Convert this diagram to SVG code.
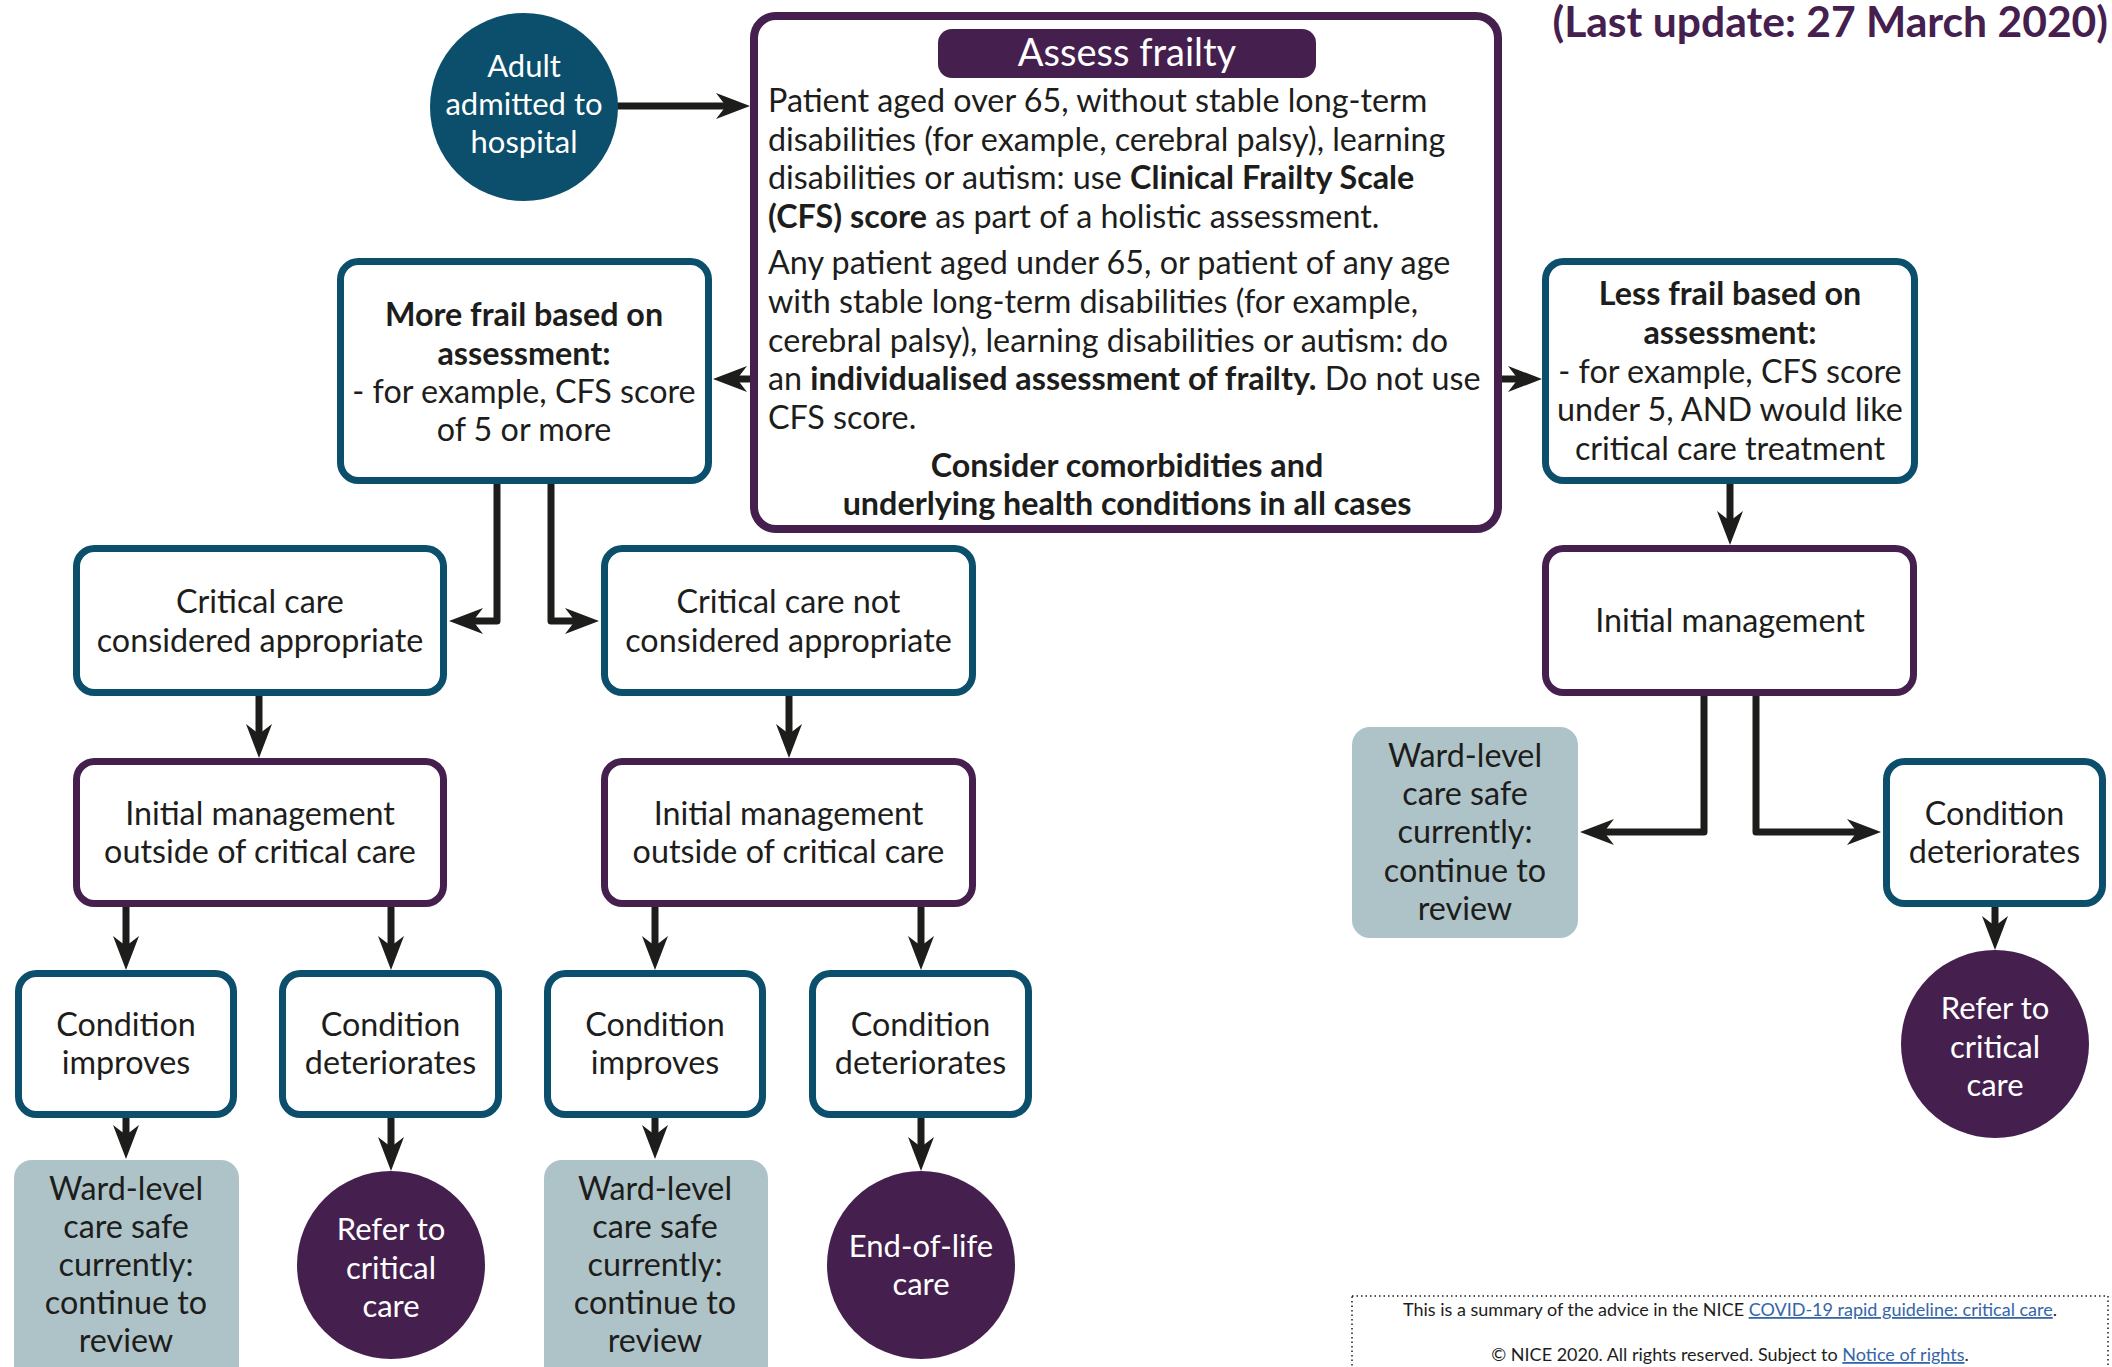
<svg xmlns="http://www.w3.org/2000/svg" width="2112" height="1367" viewBox="0 0 2112 1367">
<defs>
<style>
text{font-family:Lato,"Open Sans","Liberation Sans",sans-serif;font-size:32.3px;fill:#1d1d1b}
.c{text-anchor:middle}
.w{fill:#ffffff}
.ci{font-size:31px}
.b{font-weight:bold}
.teal{fill:#ffffff;stroke:#0b4f6c;stroke-width:7}
.purp{fill:#ffffff;stroke:#45204f;stroke-width:7}
.ward{fill:#aec3c8}
.circT{fill:#0b4f6c}
.circP{fill:#45204f}
.con{fill:none;stroke:#1d1d1b;stroke-width:7;stroke-linejoin:round;marker-end:url(#ah)}
.foot{font-size:18px}
.lnk{fill:#3566a8;text-decoration:underline}
</style>
<marker id="ah" viewBox="-10 -14 36 28" refX="0" refY="0" markerWidth="36" markerHeight="28" markerUnits="userSpaceOnUse" orient="auto">
<path d="M24,0 L-10,-13 L0,0 L-10,13 Z" fill="#1d1d1b"/>
</marker>
</defs>

<text class="b" x="2108" y="37" style="font-size:42.6px;fill:#45204f;text-anchor:end">(Last update: 27 March 2020)</text>

<g id="connectors">
<path class="con" d="M617,106 H726"/>
<path class="con" d="M751,379 H737"/>
<path class="con" d="M1502,379 H1518"/>
<path class="con" d="M1730,484 V521"/>
<path class="con" d="M497,484 V621 H473"/>
<path class="con" d="M551,484 V621 H575"/>
<path class="con" d="M259,696 V734"/>
<path class="con" d="M789,696 V734"/>
<path class="con" d="M126,907 V946"/>
<path class="con" d="M391,907 V946"/>
<path class="con" d="M655,907 V946"/>
<path class="con" d="M921,907 V946"/>
<path class="con" d="M126,1118 V1135"/>
<path class="con" d="M391,1118 V1147"/>
<path class="con" d="M655,1118 V1135"/>
<path class="con" d="M921,1118 V1147"/>
<path class="con" d="M1704,696 V832 H1604"/>
<path class="con" d="M1756,696 V832 H1857"/>
<path class="con" d="M1995,907 V926"/>
</g>

<g id="adult">
<circle class="circT" cx="524" cy="107" r="94"/>
<text class="c w ci" x="524" y="77">Adult</text>
<text class="c w ci" x="524" y="115">admitted to</text>
<text class="c w ci" x="524" y="153">hospital</text>
</g>

<g id="assess">
<rect x="754" y="16" width="744" height="513" rx="22" fill="#ffffff" stroke="#45204f" stroke-width="8"/>
<rect x="938" y="29" width="378" height="49" rx="14" fill="#45204f"/>
<text class="c w" x="1127" y="66" style="font-size:38px">Assess frailty</text>
<text x="768" y="112">Patient aged over 65, without stable long-term</text>
<text x="768" y="151">disabilities (for example, cerebral palsy), learning</text>
<text x="768" y="189">disabilities or autism: use <tspan class="b">Clinical Frailty Scale</tspan></text>
<text x="768" y="228"><tspan class="b">(CFS) score</tspan> as part of a holistic assessment.</text>
<text x="768" y="274">Any patient aged under 65, or patient of any age</text>
<text x="768" y="313">with stable long-term disabilities (for example,</text>
<text x="768" y="352">cerebral palsy), learning disabilities or autism: do</text>
<text x="768" y="390">an <tspan class="b">individualised assessment of frailty.</tspan> Do not use</text>
<text x="768" y="429">CFS score.</text>
<text class="c b" x="1127" y="477">Consider comorbidities and</text>
<text class="c b" x="1127" y="515">underlying health conditions in all cases</text>
</g>

<g id="more-frail">
<rect class="teal" x="340.5" y="261.5" width="368" height="219" rx="18"/>
<text class="c b" x="524" y="326">More frail based on</text>
<text class="c b" x="524" y="365">assessment:</text>
<text class="c" x="524" y="403">- for example, CFS score</text>
<text class="c" x="524" y="441">of 5 or more</text>
</g>

<g id="less-frail">
<rect class="teal" x="1545.5" y="261.5" width="369" height="219" rx="18"/>
<text class="c b" x="1730" y="305">Less frail based on</text>
<text class="c b" x="1730" y="344">assessment:</text>
<text class="c" x="1730" y="383">- for example, CFS score</text>
<text class="c" x="1730" y="421">under 5, AND would like</text>
<text class="c" x="1730" y="460">critical care treatment</text>
</g>

<g id="cc-appropriate">
<rect class="teal" x="76.5" y="548.5" width="367" height="144" rx="18"/>
<text class="c" x="260" y="613">Critical care</text>
<text class="c" x="260" y="652">considered appropriate</text>
</g>

<g id="cc-not-appropriate">
<rect class="teal" x="604.5" y="548.5" width="368" height="144" rx="18"/>
<text class="c" x="788.5" y="613">Critical care not</text>
<text class="c" x="788.5" y="652">considered appropriate</text>
</g>

<g id="init-left">
<rect class="purp" x="76.5" y="761.5" width="367" height="142" rx="18"/>
<text class="c" x="260" y="825">Initial management</text>
<text class="c" x="260" y="863">outside of critical care</text>
</g>

<g id="init-mid">
<rect class="purp" x="604.5" y="761.5" width="368" height="142" rx="18"/>
<text class="c" x="788.5" y="825">Initial management</text>
<text class="c" x="788.5" y="863">outside of critical care</text>
</g>

<g id="init-right">
<rect class="purp" x="1545.5" y="548.5" width="368" height="144" rx="18"/>
<text class="c" x="1730" y="632">Initial management</text>
</g>

<g id="cond-improves-1">
<rect class="teal" x="18.5" y="973.5" width="215" height="141" rx="18"/>
<text class="c" x="126" y="1036">Condition</text>
<text class="c" x="126" y="1074">improves</text>
</g>

<g id="cond-det-1">
<rect class="teal" x="282.5" y="973.5" width="216" height="141" rx="18"/>
<text class="c" x="390.5" y="1036">Condition</text>
<text class="c" x="390.5" y="1074">deteriorates</text>
</g>

<g id="cond-improves-2">
<rect class="teal" x="547.5" y="973.5" width="215" height="141" rx="18"/>
<text class="c" x="655" y="1036">Condition</text>
<text class="c" x="655" y="1074">improves</text>
</g>

<g id="cond-det-2">
<rect class="teal" x="812.5" y="973.5" width="216" height="141" rx="18"/>
<text class="c" x="920.5" y="1036">Condition</text>
<text class="c" x="920.5" y="1074">deteriorates</text>
</g>

<g id="ward-1">
<rect class="ward" x="14" y="1160" width="225" height="230" rx="18"/>
<text class="c" x="126" y="1200">Ward-level</text>
<text class="c" x="126" y="1238">care safe</text>
<text class="c" x="126" y="1276">currently:</text>
<text class="c" x="126" y="1314">continue to</text>
<text class="c" x="126" y="1352">review</text>
</g>

<g id="refer-1">
<circle class="circP" cx="391" cy="1265" r="94"/>
<text class="c w ci" x="391" y="1240">Refer to</text>
<text class="c w ci" x="391" y="1279">critical</text>
<text class="c w ci" x="391" y="1317">care</text>
</g>

<g id="ward-2">
<rect class="ward" x="544" y="1160" width="224" height="230" rx="18"/>
<text class="c" x="655" y="1200">Ward-level</text>
<text class="c" x="655" y="1238">care safe</text>
<text class="c" x="655" y="1276">currently:</text>
<text class="c" x="655" y="1314">continue to</text>
<text class="c" x="655" y="1352">review</text>
</g>

<g id="end-of-life">
<circle class="circP" cx="921" cy="1265" r="94"/>
<text class="c w ci" x="921" y="1257">End-of-life</text>
<text class="c w ci" x="921" y="1295">care</text>
</g>

<g id="ward-right">
<rect x="1352" y="727" width="226" height="211" rx="18" class="ward"/>
<text class="c" x="1465" y="767">Ward-level</text>
<text class="c" x="1465" y="805">care safe</text>
<text class="c" x="1465" y="843">currently:</text>
<text class="c" x="1465" y="882">continue to</text>
<text class="c" x="1465" y="920">review</text>
</g>

<g id="cond-det-right">
<rect class="teal" x="1886.5" y="761.5" width="216" height="142" rx="18"/>
<text class="c" x="1994.5" y="825">Condition</text>
<text class="c" x="1994.5" y="863">deteriorates</text>
</g>

<g id="refer-right">
<circle class="circP" cx="1995" cy="1044" r="94"/>
<text class="c w ci" x="1995" y="1019">Refer to</text>
<text class="c w ci" x="1995" y="1058">critical</text>
<text class="c w ci" x="1995" y="1096">care</text>
</g>

<g id="footer">
<rect x="1352" y="1296" width="756" height="100" fill="none" stroke="#1d1d1b" stroke-width="1.5" stroke-dasharray="1.5 3"/>
<text class="c foot" x="1730" y="1316">This is a summary of the advice in the NICE <tspan class="lnk">COVID-19 rapid guideline: critical care</tspan>.</text>
<text class="c foot" x="1730" y="1361">© NICE 2020. All rights reserved. Subject to <tspan class="lnk">Notice of rights</tspan>.</text>
</g>
</svg>
